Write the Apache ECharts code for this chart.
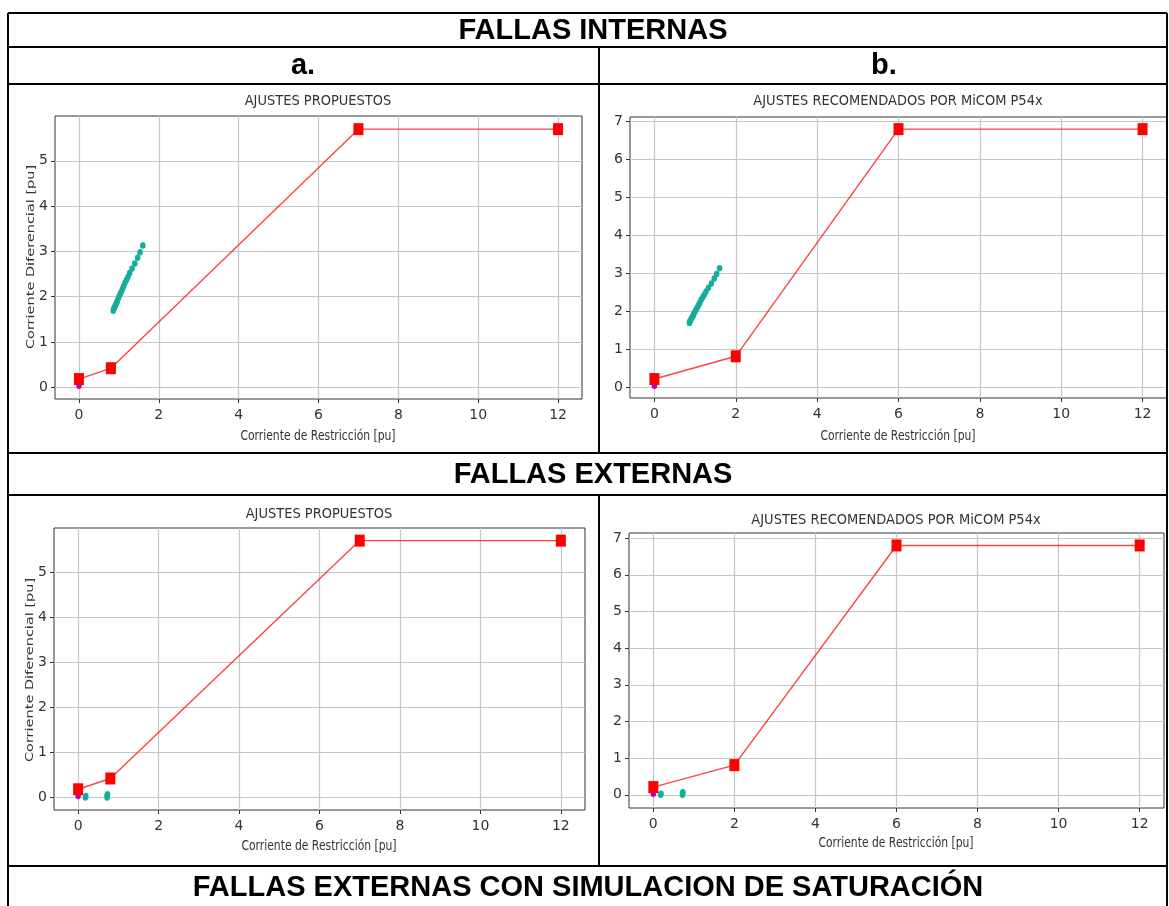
<!DOCTYPE html>
<html>
<head>
<meta charset="utf-8">
<script src="https://cdn.jsdelivr.net/npm/echarts@6/dist/echarts.min.js"></script>
<style>
html, body { margin: 0; padding: 0; background: #fff; }
#main { width: 1169px; height: 906px; }
</style>
</head>
<body>
<div id="main"></div>
<script>
// curva de ajustes propuestos
const restrPropuestos = [0, 0.8, 7, 12];
const difPropuestos = [0.18, 0.42, 5.7, 5.7];
// curva recomendada MiCOM P54x
const restrMicom = [0, 2, 6, 12];
const difMicom = [0.21, 0.81, 6.8, 6.8];
// puntos de fallas internas
const restrInternas = [0.86, 0.87, 0.88, 0.90, 0.92, 0.94, 0.96, 0.98, 1.00, 1.03, 1.06, 1.09, 1.12, 1.15, 1.19, 1.23, 1.27, 1.33, 1.40, 1.47, 1.53, 1.60];
const difInternas = [1.69, 1.72, 1.75, 1.78, 1.82, 1.86, 1.90, 1.95, 1.99, 2.05, 2.11, 2.17, 2.23, 2.30, 2.37, 2.44, 2.52, 2.62, 2.73, 2.86, 2.98, 3.13];
// puntos de fallas externas
const restrExternas = [0.18, 0.19, 0.72, 0.72, 0.73];
const difExternas = [0.0, 0.03, 0.0, 0.04, 0.07];
// punto en el origen
const restrOrigen = [0];
const difOrigen = [0.03];

const xTicks = [0, 2, 4, 6, 8, 10, 12];
const yTicksPropuestos = [0, 1, 2, 3, 4, 5];
const yTicksMicom = [0, 1, 2, 3, 4, 5, 6, 7];

const sans = "'DejaVu Sans', sans-serif";

function pares(xs, ys) {
  return xs.map((x, i) => [x, ys[i]]);
}

function ejeX(idx) {
  return {
    gridIndex: idx, type: 'value', min: -0.6, max: 12.6,
    axisLine: { show: false, onZero: false },
    axisTick: { show: true, customValues: xTicks, length: 4, lineStyle: { color: '#333' } },
    axisLabel: { customValues: xTicks, margin: 9, fontSize: 14, color: '#333', fontFamily: sans },
    splitLine: { show: true, lineStyle: { color: '#c6c6c6', width: 1.2 } }
  };
}

function ejeY(idx, min, max, ticks) {
  return {
    gridIndex: idx, type: 'value', min: min, max: max,
    axisLine: { show: false, onZero: false },
    axisTick: { show: true, customValues: ticks, length: 4, lineStyle: { color: '#333' } },
    axisLabel: { customValues: ticks, margin: 7, fontSize: 14, color: '#333', fontFamily: sans },
    splitLine: { show: true, lineStyle: { color: '#c6c6c6', width: 1.2 } }
  };
}

function series(idx, rx, dy, puntosX, puntosY) {
  return [
    {
      type: 'line', xAxisIndex: idx, yAxisIndex: idx, data: pares(rx, dy),
      symbol: 'rect', symbolSize: [10, 12], showSymbol: true,
      lineStyle: { color: 'rgba(255,20,20,0.8)', width: 1.4 },
      itemStyle: { color: '#ff0000' }
    },
    {
      type: 'scatter', xAxisIndex: idx, yAxisIndex: idx, data: pares(puntosX, puntosY),
      symbolSize: [5.5, 6.5], itemStyle: { color: '#14ad9c', opacity: 1 }
    },
    {
      type: 'scatter', xAxisIndex: idx, yAxisIndex: idx, data: pares(restrOrigen, difOrigen),
      symbolSize: [5.5, 6.5], itemStyle: { color: '#b400c8', opacity: 1 }
    }
  ];
}

function linea(x1, y1, x2, y2) {
  return { type: 'line', shape: { x1, y1, x2, y2 }, style: { stroke: '#000', lineWidth: 2 }, z: 100 };
}

function texto(t, x, y, font, extra) {
  return Object.assign({
    type: 'text', x, y,
    style: { text: t, align: 'center', verticalAlign: 'middle', font: font, fill: '#000' },
    z: 100
  }, extra || {});
}

function textoGris(t, x, y, size, extra) {
  return Object.assign({
    type: 'text', x, y,
    style: { text: t, align: 'center', verticalAlign: 'middle', fontSize: size, fontFamily: sans, fill: '#333' },
    z: 100
  }, extra || {});
}

const cabecera = "bold 29px 'Liberation Sans', Arial, sans-serif";
const nombreX = 'Corriente de Restricción [pu]';
const nombreY = 'Corriente Diferencial [pu]';

let myChart = echarts.init(document.getElementById('main'));
let option = {
  animation: false,
  grid: [
    { left: 55, top: 116, width: 527, height: 283, show: true, borderColor: '#333', borderWidth: 1 },
    { left: 630, top: 117, width: 537, height: 281, show: true, borderColor: '#333', borderWidth: 1 },
    { left: 54, top: 528, width: 531, height: 282, show: true, borderColor: '#333', borderWidth: 1 },
    { left: 629, top: 533, width: 535, height: 275, show: true, borderColor: '#333', borderWidth: 1 }
  ],
  xAxis: [ejeX(0), ejeX(1), ejeX(2), ejeX(3)],
  yAxis: [
    ejeY(0, -0.26, 5.99, yTicksPropuestos),
    ejeY(1, -0.29, 7.12, yTicksMicom),
    ejeY(2, -0.28, 5.98, yTicksPropuestos),
    ejeY(3, -0.36, 7.14, yTicksMicom)
  ],
  series: [].concat(
    series(0, restrPropuestos, difPropuestos, restrInternas, difInternas),
    series(1, restrMicom, difMicom, restrInternas, difInternas),
    series(2, restrPropuestos, difPropuestos, restrExternas, difExternas),
    series(3, restrMicom, difMicom, restrExternas, difExternas)
  ),
  graphic: [
    // bordes de la tabla
    linea(8, 13, 1167, 13),
    linea(8, 13, 8, 906),
    linea(1167, 13, 1167, 906),
    linea(8, 47, 1167, 47),
    linea(8, 84, 1167, 84),
    linea(8, 453, 1167, 453),
    linea(8, 495, 1167, 495),
    linea(8, 866, 1167, 866),
    linea(599, 47, 599, 453),
    linea(599, 495, 599, 866),
    // cabeceras
    texto('FALLAS INTERNAS', 593, 31, cabecera),
    texto('a.', 303, 66, cabecera),
    texto('b.', 884, 66, cabecera),
    texto('FALLAS EXTERNAS', 593, 475, cabecera),
    texto('FALLAS EXTERNAS CON SIMULACION DE SATURACIÓN', 588, 888, cabecera),
    // titulos de graficos
    textoGris('AJUSTES PROPUESTOS', 318, 101, 14, { scaleX: 0.93 }),
    textoGris('AJUSTES RECOMENDADOS POR MiCOM P54x', 898, 101, 14, { scaleX: 0.93 }),
    textoGris('AJUSTES PROPUESTOS', 319, 514, 14, { scaleX: 0.93 }),
    textoGris('AJUSTES RECOMENDADOS POR MiCOM P54x', 896, 520, 14, { scaleX: 0.93 }),
    // nombres de ejes
    textoGris(nombreX, 318, 436, 14, { scaleX: 0.77 }),
    textoGris(nombreX, 898, 436, 14, { scaleX: 0.77 }),
    textoGris(nombreX, 319, 846, 14, { scaleX: 0.77 }),
    textoGris(nombreX, 896, 843, 14, { scaleX: 0.77 }),
    textoGris(nombreY, 31, 257, 14.5, { rotation: Math.PI / 2, scaleY: 0.78 }),
    textoGris(nombreY, 30, 670, 14.5, { rotation: Math.PI / 2, scaleY: 0.78 })
  ]
};
myChart.setOption(option);
</script>
</body>
</html>
